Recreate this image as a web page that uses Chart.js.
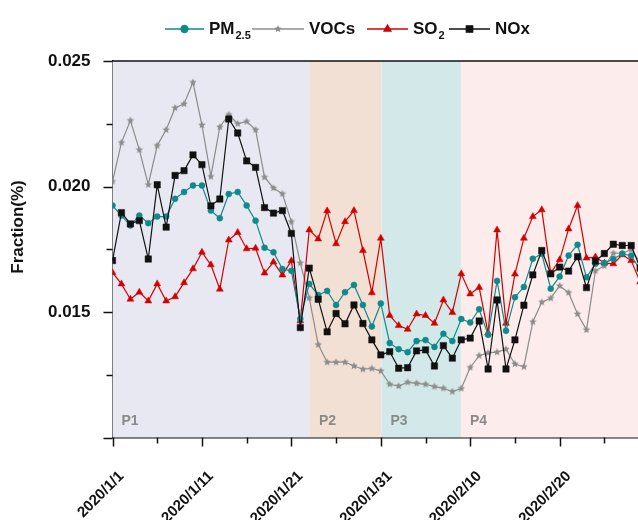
<!DOCTYPE html>
<html>
<head>
<meta charset="utf-8">
<script src="https://cdn.jsdelivr.net/npm/chart.js@4.4.1/dist/chart.umd.min.js"></script>
<style>
  html, body { margin: 0; padding: 0; background: #fff; }
</style>
</head>
<body>
<canvas id="fractionChart" width="638" height="520"></canvas>
<script>
const FONT = "'Liberation Sans', Arial, Helvetica, sans-serif";

// x axis: day index from 2020/1/1, labelled every 10 days
const tickLabels = ['2020/1/1', '2020/1/11', '2020/1/21', '2020/1/31', '2020/2/10', '2020/2/20'];

// periods (start day) and their shading
const periodNames = ['P1', 'P2', 'P3', 'P4'];
const periodStarts = [0, 22.07, 30.08, 38.96];
const periodColors = ['#e8e8f2', '#f2e0d4', '#d3e8e8', '#fdecec'];

// daily fractions (%)
const pm25 = [0.01924, 0.01884, 0.01845, 0.01884, 0.01854, 0.01880, 0.01880, 0.01951, 0.01978, 0.02004,
  0.02004, 0.01904, 0.01874, 0.01970, 0.01978, 0.01924, 0.01864, 0.01756, 0.01738, 0.01671,
  0.01664, 0.01472, 0.01612, 0.01568, 0.01584, 0.01528, 0.01579, 0.01608, 0.01528, 0.01442,
  0.01534, 0.01376, 0.01352, 0.01340, 0.01384, 0.01388, 0.01361, 0.01413, 0.01384, 0.01472,
  0.01458, 0.01511, 0.01409, 0.01624, 0.01425, 0.01559, 0.01600, 0.01712, 0.01732, 0.01593,
  0.01641, 0.01725, 0.01768, 0.01638, 0.01692, 0.01695, 0.01711, 0.01732, 0.01724, 0.01668];

const vocs = [0.02020, 0.02175, 0.02263, 0.02146, 0.02007, 0.02163, 0.02226, 0.02313, 0.02329, 0.02415,
  0.02245, 0.02040, 0.02237, 0.02286, 0.02250, 0.02259, 0.02226, 0.02037, 0.01994, 0.01971,
  0.01860, 0.01695, 0.01556, 0.01370, 0.01300, 0.01300, 0.01300, 0.01285, 0.01272, 0.01275,
  0.01265, 0.01212, 0.01205, 0.01220, 0.01216, 0.01212, 0.01203, 0.01196, 0.01183, 0.01195,
  0.01279, 0.01326, 0.01337, 0.01340, 0.01352, 0.01293, 0.01282, 0.01461, 0.01539, 0.01555,
  0.01604, 0.01577, 0.01492, 0.01429, 0.01664, 0.01684, 0.01734, 0.01734, 0.01748, 0.01700];

const so2 = [0.01657, 0.01612, 0.01551, 0.01579, 0.01544, 0.01612, 0.01544, 0.01561, 0.01617, 0.01672,
  0.01738, 0.01688, 0.01591, 0.01787, 0.01817, 0.01752, 0.01754, 0.01655, 0.01699, 0.01647,
  0.01704, 0.01465, 0.01827, 0.01791, 0.01903, 0.01772, 0.01860, 0.01904, 0.01745, 0.01577,
  0.01794, 0.01486, 0.01446, 0.01431, 0.01492, 0.01486, 0.01455, 0.01548, 0.01498, 0.01652,
  0.01572, 0.01598, 0.01416, 0.01827, 0.01455, 0.01651, 0.01794, 0.01880, 0.01907, 0.01655,
  0.01708, 0.01831, 0.01924, 0.01715, 0.01719, 0.01695, 0.01692, 0.01728, 0.01705, 0.01620];

const nox = [0.01705, 0.01896, 0.01851, 0.01864, 0.01711, 0.02007, 0.01838, 0.02044, 0.02063, 0.02126,
  0.02087, 0.01923, 0.01950, 0.02269, 0.02213, 0.02102, 0.02076, 0.01916, 0.01894, 0.01904,
  0.01813, 0.01438, 0.01675, 0.01551, 0.01421, 0.01494, 0.01453, 0.01528, 0.01454, 0.01389,
  0.01329, 0.01342, 0.01276, 0.01278, 0.01345, 0.01349, 0.01285, 0.01366, 0.01316, 0.01389,
  0.01396, 0.01464, 0.01273, 0.01548, 0.01273, 0.01389, 0.01527, 0.01648, 0.01745, 0.01652,
  0.01679, 0.01663, 0.01720, 0.01597, 0.01703, 0.01733, 0.01770, 0.01765, 0.01765, 0.01676];

const TEAL = '#0f8a8a';
const GREY = '#8c8c8c';
const RED = '#d40000';
const BLACK = '#111111';

// filled five-point star, Chart.js only has the asterisk version
function starImage(color, r) {
  const size = Math.ceil(r * 2) + 2;
  const c = document.createElement('canvas');
  c.width = c.height = size;
  const g = c.getContext('2d');
  g.beginPath();
  for (let i = 0; i < 10; i++) {
    const rad = i % 2 === 0 ? r : r * 0.45;
    const a = -Math.PI / 2 + i * Math.PI / 5;
    g.lineTo(size / 2 + rad * Math.cos(a), size / 2 + rad * Math.sin(a));
  }
  g.closePath();
  g.fillStyle = color;
  g.fill();
  return c;
}
const star = starImage(GREY, 4);

function toPoints(arr) {
  return arr.map((v, i) => ({ x: i, y: v }));
}

// shaded periods behind the data
const periodBands = {
  id: 'periodBands',
  beforeDatasetsDraw(chart) {
    const { ctx, chartArea, scales } = chart;
    const xs = scales.x;
    ctx.save();
    for (let i = 0; i < periodStarts.length; i++) {
      const x0 = Math.max(xs.getPixelForValue(periodStarts[i]), chartArea.left);
      const x1 = i + 1 < periodStarts.length ? xs.getPixelForValue(periodStarts[i + 1]) : chartArea.right;
      ctx.fillStyle = periodColors[i];
      ctx.fillRect(x0, chartArea.top, x1 - x0, chartArea.bottom - chartArea.top);
      ctx.fillStyle = '#8a8a8a';
      ctx.font = 'bold 14px ' + FONT;
      ctx.textBaseline = 'middle';
      ctx.fillText(periodNames[i], x0 + 9, chartArea.bottom - 16);
    }
    ctx.restore();
  }
};

// frame, tick marks, y title and legend
const decorations = {
  id: 'decorations',
  afterDraw(chart) {
    const { ctx, chartArea, scales } = chart;
    const xs = scales.x, ys = scales.y;
    ctx.save();
    ctx.strokeStyle = '#111';
    ctx.lineWidth = 1.5;
    ctx.beginPath();
    ctx.moveTo(chartArea.left, chartArea.top);
    ctx.lineTo(chartArea.right, chartArea.top);
    ctx.stroke();

    // x ticks: long every 10 days, short in between
    for (let d = 0; d <= xs.max; d += 5) {
      const x = Math.round(xs.getPixelForValue(d)) + 0.5;
      const len = d % 10 === 0 ? 9 : 6;
      ctx.beginPath();
      ctx.moveTo(x, chartArea.bottom);
      ctx.lineTo(x, chartArea.bottom + len);
      ctx.stroke();
    }
    // y ticks
    for (let k = 0; k <= 6; k++) {
      const v = 0.010 + k * 0.0025;
      const y = Math.round(ys.getPixelForValue(v)) + 0.5;
      const len = k % 2 === 0 ? 9 : 6;
      ctx.beginPath();
      ctx.moveTo(chartArea.left, y);
      ctx.lineTo(chartArea.left - len, y);
      ctx.stroke();
    }

    // y title
    ctx.fillStyle = '#111';
    ctx.font = 'bold 17px ' + FONT;
    ctx.textAlign = 'center';
    ctx.textBaseline = 'middle';
    ctx.translate(18, 227);
    ctx.rotate(-Math.PI / 2);
    ctx.fillText('Fraction(%)', 0, 0);
    ctx.restore();

    // legend
    const items = [
      { main: 'PM', sub: '2.5', color: TEAL, x0: 165, x1: 204, style: 'circle', r: 3.5 },
      { main: 'VOCs', sub: '', color: GREY, x0: 252, x1: 304, style: star, r: 4 },
      { main: 'SO', sub: '2', color: RED, x0: 367, x1: 408, style: 'triangle', r: 4 },
      { main: 'NOx', sub: '', color: BLACK, x0: 449, x1: 490, style: 'rect', r: 4.5 }
    ];
    const ly = 29;
    ctx.save();
    items.forEach(it => {
      ctx.strokeStyle = it.color;
      ctx.fillStyle = it.color;
      ctx.lineWidth = 1.3;
      ctx.beginPath();
      ctx.moveTo(it.x0, ly);
      ctx.lineTo(it.x1, ly);
      ctx.stroke();
      Chart.helpers.drawPoint(ctx, {
        pointStyle: it.style, radius: it.r, rotation: 0, borderWidth: 0.5
      }, (it.x0 + it.x1) / 2, ly);
      ctx.fillStyle = '#111';
      ctx.font = 'bold 17px ' + FONT;
      ctx.textAlign = 'left';
      ctx.textBaseline = 'middle';
      const tx = it.x1 + 5;
      ctx.fillText(it.main, tx, ly);
      if (it.sub) {
        const w = ctx.measureText(it.main).width;
        ctx.font = 'bold 11px ' + FONT;
        ctx.fillText(it.sub, tx + w + 1, ly + 7);
      }
    });
    ctx.restore();
  }
};

const ctx = document.getElementById('fractionChart').getContext('2d');
const fractionChart = new Chart(ctx, {
  type: 'line',
  data: {
    datasets: [
      {
        label: 'NOx', data: toPoints(nox), order: 0,
        borderColor: BLACK, backgroundColor: BLACK, borderWidth: 1.2,
        pointStyle: 'rect', pointRadius: 4.5, pointBackgroundColor: BLACK, pointBorderColor: BLACK, pointBorderWidth: 0.5
      },
      {
        label: 'PM2.5', data: toPoints(pm25), order: 1,
        borderColor: TEAL, backgroundColor: TEAL, borderWidth: 1.2,
        pointStyle: 'circle', pointRadius: 3, pointBackgroundColor: TEAL, pointBorderColor: TEAL, pointBorderWidth: 0.5
      },
      {
        label: 'SO2', data: toPoints(so2), order: 2,
        borderColor: RED, backgroundColor: RED, borderWidth: 1.2,
        pointStyle: 'triangle', pointRadius: 4, pointBackgroundColor: RED, pointBorderColor: RED, pointBorderWidth: 0.5
      },
      {
        label: 'VOCs', data: toPoints(vocs), order: 3,
        borderColor: GREY, backgroundColor: GREY, borderWidth: 1.2,
        pointStyle: star, pointRadius: 4
      }
    ]
  },
  options: {
    responsive: false,
    animation: false,
    layout: { autoPadding: false, padding: { top: 61, left: 0, right: 0, bottom: 0 } },
    plugins: {
      legend: { display: false },
      tooltip: { enabled: false }
    },
    scales: {
      x: {
        type: 'linear',
        min: 0,
        max: 58.76,
        grid: { display: false, drawTicks: false },
        border: { display: true, color: '#111', width: 1.5 },
        ticks: {
          stepSize: 5,
          includeBounds: false,
          autoSkip: false,
          minRotation: 45,
          maxRotation: 45,
          padding: 30,
          labelOffset: 9,
          color: '#111',
          font: { family: FONT, size: 15, weight: 'bold' },
          callback: (v) => (v % 10 === 0 ? tickLabels[v / 10] : '')
        },
        afterFit: (scale) => {
          scale.height = 82.5;
          scale.paddingLeft = 0;
          scale.paddingRight = 0;
        }
      },
      y: {
        min: 0.010,
        max: 0.025,
        grid: { display: false, drawTicks: false },
        border: { display: true, color: '#111', width: 1.5 },
        ticks: {
          stepSize: 0.0025,
          padding: 22,
          color: '#111',
          font: { family: FONT, size: 17, weight: 'bold' },
          callback: (v) => {
            const m = Math.round(v * 10000);
            return (m === 150 || m === 200 || m === 250) ? v.toFixed(3) : '';
          }
        },
        afterFit: (scale) => {
          scale.width = 112.5;
          scale.paddingTop = 0;
          scale.paddingBottom = 0;
        }
      }
    }
  },
  plugins: [periodBands, decorations]
});
</script>
</body>
</html>
